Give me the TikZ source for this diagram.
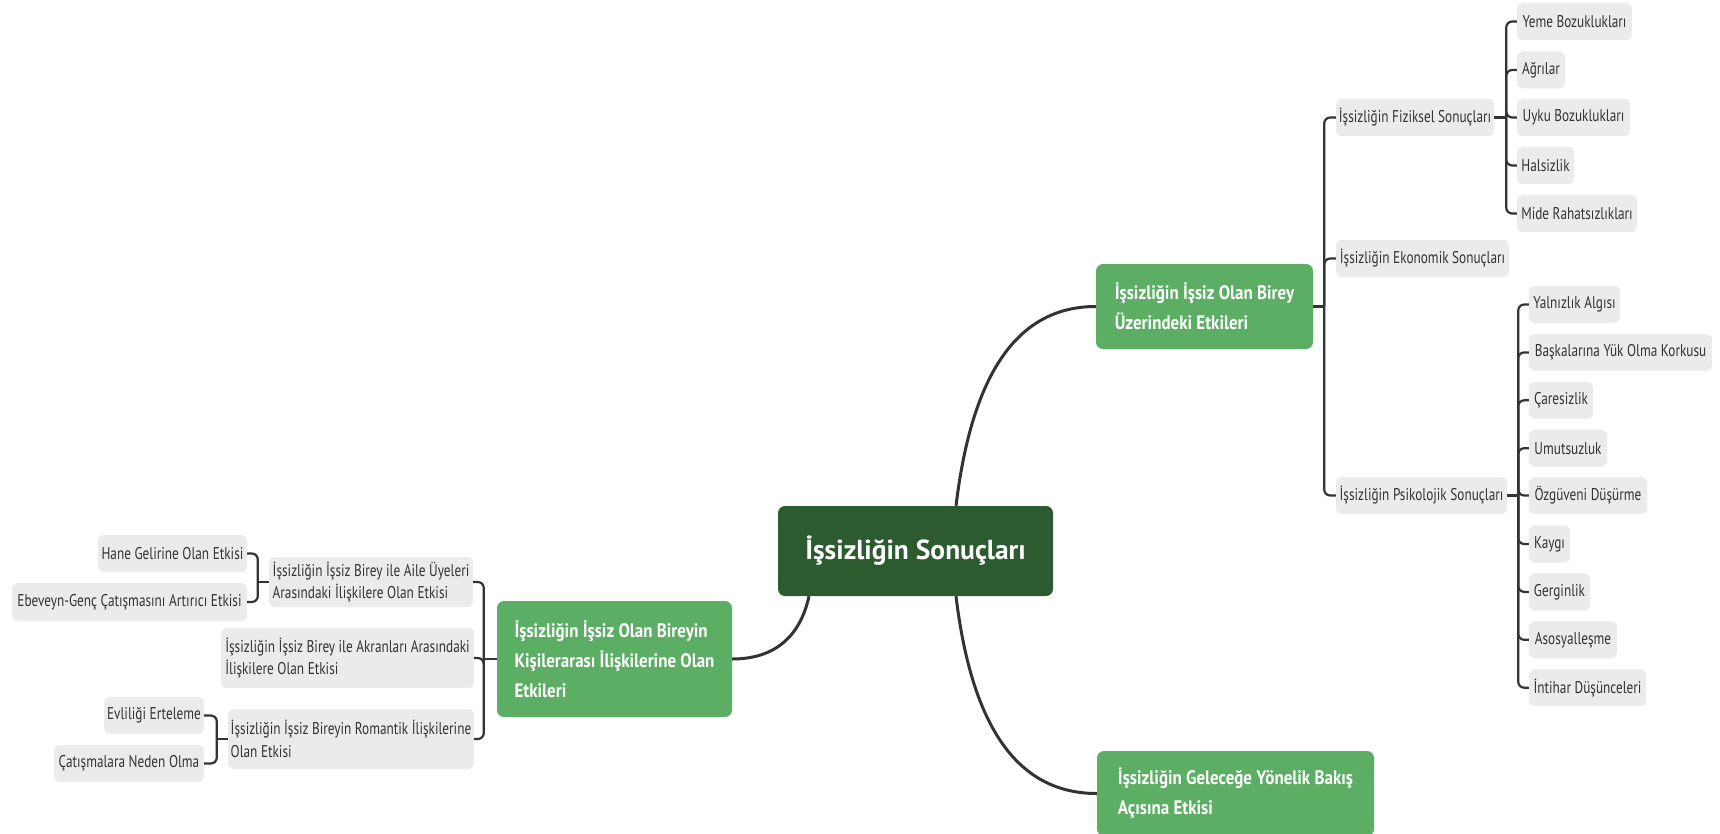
\documentclass[tikz,border=0pt]{standalone}
\usepackage{fontspec}
\setmainfont{PT Sans}
\newfontfamily\leaffont[FakeStretch=0.78]{PT Sans}
\newfontfamily\grfont[FakeStretch=0.87]{PT Sans}
\newfontfamily\rootfont[FakeStretch=1.0]{PT Sans}
\definecolor{rootgreen}{HTML}{2B5B2E}
\definecolor{midgreen}{HTML}{5BAE64}
\definecolor{leafgray}{HTML}{EBEBEB}
\definecolor{inkgray}{HTML}{333333}
\definecolor{linegray}{HTML}{333333}
\begin{document}
\begin{tikzpicture}[x=1pt,y=-1pt,
  leaf/.style={fill=leafgray, rounded corners=6pt, inner sep=0pt, align=left, text=inkgray, font=\leaffont\fontsize{17}{22.5}\selectfont},
  branch/.style={fill=midgreen, rounded corners=7pt, inner sep=0pt, align=left, text=white, font=\grfont\bfseries\fontsize{19.5}{30}\selectfont},
  rootbox/.style={fill=rootgreen, rounded corners=7pt, inner sep=0pt, text=white, font=\rootfont\bfseries\fontsize{27.5}{30}\selectfont},
  link/.style={draw=linegray, line width=3pt},
  brk/.style={draw=linegray, line width=2.2pt, rounded corners=6pt},
]
\fill[white] (0,0) rectangle (1720,834);
\useasboundingbox (0,0) rectangle (1720,834);

% root and branches
\node[rootbox, minimum width=275, minimum height=90] (root) at (915.5,551) {İşsizliğin Sonuçları};
\node[branch, minimum width=217, minimum height=85] (g1) at (1204.5,306.5) {İşsizliğin İşsiz Olan Birey\\Üzerindeki Etkileri};
\node[branch, minimum width=235, minimum height=116] (gL) at (614.5,659) {İşsizliğin İşsiz Olan Bireyin\\Kişilerarası İlişkilerine Olan\\Etkileri};
\node[branch, minimum width=277, minimum height=85] (gB) at (1235.5,793.5) {İşsizliğin Geleceğe Yönelik Bakış\\Açısına Etkisi};

% right level 2
\node[leaf, minimum width=158, minimum height=37] (fiz) at (1415,117.5) {İşsizliğin Fiziksel Sonuçları};
\node[leaf, minimum width=173, minimum height=37] (eko) at (1422.5,258.5) {İşsizliğin Ekonomik Sonuçları};
\node[leaf, minimum width=171, minimum height=37] (psi) at (1421.5,495.5) {İşsizliğin Psikolojik Sonuçları};

% fiziksel children
\node[leaf, minimum width=115, minimum height=37] (yeme) at (1574.5,21.5) {Yeme Bozuklukları};
\node[leaf, minimum width=48, minimum height=37] (agri) at (1541,70) {Ağrılar};
\node[leaf, minimum width=113, minimum height=37] (uyku) at (1573.5,117.5) {Uyku Bozuklukları};
\node[leaf, minimum width=57, minimum height=37] (hals) at (1545.5,165.5) {Halsizlik};
\node[leaf, minimum width=120, minimum height=37] (mide) at (1577,213.5) {Mide Rahatsızlıkları};

% psikolojik children
\node[leaf, minimum width=91, minimum height=37] (yaln) at (1574.5,304.5) {Yalnızlık Algısı};
\node[leaf, minimum width=183, minimum height=37] (bask) at (1620.5,352.4) {Başkalarına Yük Olma Korkusu};
\node[leaf, minimum width=64, minimum height=37] (care) at (1561,400.3) {Çaresizlik};
\node[leaf, minimum width=78, minimum height=37] (umut) at (1568,448.2) {Umutsuzluk};
\node[leaf, minimum width=118, minimum height=37] (ozg) at (1588,495.5) {Özgüveni Düşürme};
\node[leaf, minimum width=41, minimum height=37] (kaygi) at (1549.5,544) {Kaygı};
\node[leaf, minimum width=61, minimum height=37] (gerg) at (1559.5,591.9) {Gerginlik};
\node[leaf, minimum width=88, minimum height=37] (asos) at (1573,639.8) {Asosyalleşme};
\node[leaf, minimum width=117, minimum height=37] (inti) at (1587.5,687.7) {İntihar Düşünceleri};

% left level 2
\node[leaf, minimum width=204, minimum height=50] (aile) at (371,582) {İşsizliğin İşsiz Birey ile Aile Üyeleri\\Arasındaki İlişkilere Olan Etkisi};
\node[leaf, minimum width=253, minimum height=60] (akran) at (347.5,658) {İşsizliğin İşsiz Birey ile Akranları Arasındaki\\İlişkilere Olan Etkisi};
\node[leaf, minimum width=246, minimum height=60] (rom) at (351,739) {İşsizliğin İşsiz Bireyin Romantik İlişkilerine\\Olan Etkisi};

% left level 3
\node[leaf, minimum width=149, minimum height=37] (hane) at (172.5,553.5) {Hane Gelirine Olan Etkisi};
\node[leaf, minimum width=235, minimum height=38] (ebev) at (129.5,602) {Ebeveyn-Genç Çatışmasını Artırıcı Etkisi};
\node[leaf, minimum width=100, minimum height=37] (evl) at (154,715.5) {Evliliği Erteleme};
\node[leaf, minimum width=150, minimum height=37] (cat) at (129,763.5) {Çatışmalara Neden Olma};

% main curved links
\draw[link] ([xshift=40.5]root.north) .. controls +(16,-133) and +(-78,0) .. (g1.west);
\draw[link] ([xshift=40.5]root.south) .. controls +(16,133) and +(-78,0) .. (gB.west);
\draw[link] ([xshift=-106.5]root.south) .. controls +(-9,41) and +(42,0) .. (gL.east);

% right bracket from g1
\coordinate (j1) at ([xshift=11]g1.east);
\draw[brk] (g1.east) -- (j1);
\foreach \c in {fiz,eko,psi} \draw[brk] (j1) |- (\c.west);

% fiziksel bracket
\coordinate (fj) at ([xshift=12]fiz.east);
\draw[brk] (fiz.east) -- (fj);
\foreach \c in {yeme,agri,uyku,hals,mide} \draw[brk] (fj) |- (\c.west);

% psikolojik bracket
\coordinate (pj) at ([xshift=11]psi.east);
\draw[brk] (psi.east) -- (pj);
\foreach \c in {yaln,bask,care,umut,ozg,kaygi,gerg,asos,inti} \draw[brk] (pj) |- (\c.west);

% left bracket from gL
\coordinate (jL) at ([xshift=-13]gL.west);
\draw[brk] (gL.west) -- (jL);
\foreach \c in {aile,akran,rom} \draw[brk] (jL) |- (\c.east);

% aile bracket
\coordinate (aj) at ([xshift=-11]aile.west);
\draw[brk] (aile.west) -- (aj);
\foreach \c in {hane,ebev} \draw[brk] (aj) |- (\c.east);

% romantik bracket
\coordinate (rj) at ([xshift=-11]rom.west);
\draw[brk] (rom.west) -- (rj);
\foreach \c in {evl,cat} \draw[brk] (rj) |- (\c.east);
\end{tikzpicture}
\end{document}
